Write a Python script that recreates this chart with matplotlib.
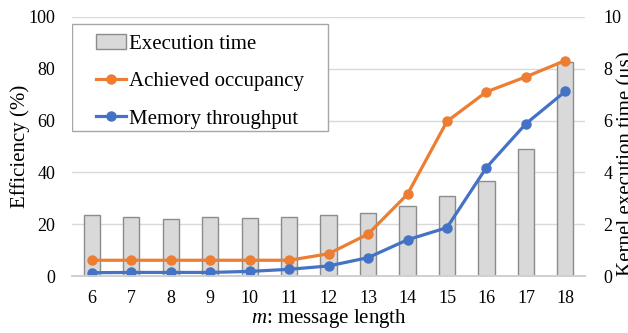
import matplotlib
matplotlib.use('Agg')
import matplotlib.pyplot as plt
from matplotlib.patches import Rectangle

plt.rcParams['font.family'] = ['Liberation Serif', 'DejaVu Serif']
plt.rcParams['mathtext.fontset'] = 'custom'
plt.rcParams['mathtext.rm'] = 'Liberation Serif'
plt.rcParams['mathtext.it'] = 'Liberation Serif:italic'

m = [6, 7, 8, 9, 10, 11, 12, 13, 14, 15, 16, 17, 18]
exec_time = [2.35, 2.27, 2.22, 2.29, 2.23, 2.27, 2.37, 2.45, 2.70, 3.09, 3.66, 4.91, 8.25]
occupancy = [6.1, 6.1, 6.1, 6.1, 6.1, 6.1, 8.6, 16.2, 31.6, 59.7, 71.1, 76.9, 83.2]
mem_thru = [1.3, 1.4, 1.4, 1.4, 1.8, 2.6, 3.9, 7.1, 14.0, 18.7, 41.9, 58.8, 71.3]

fig = plt.figure(figsize=(6.28, 3.33), dpi=100)
ax1 = fig.add_axes([0.1147, 0.171, 0.817, 0.778])
ax2 = ax1.twinx()
ax1.set_zorder(ax2.get_zorder() + 1)
ax1.patch.set_visible(False)

bars = ax2.bar(m, exec_time, width=0.41, color='#d9d9d9', edgecolor='#8c8c8c',
               linewidth=1, label='Execution time')
ax2.set_ylim(0, 10)
ax2.set_yticks([0, 2, 4, 6, 8, 10])
ax2.grid(axis='y', color='#d9d9d9', linewidth=1)
ax2.set_axisbelow(True)

l1, = ax1.plot(m, occupancy, color='#ed7d31', lw=2.3, marker='o', ms=6.5,
               label='Achieved occupancy')
l2, = ax1.plot(m, mem_thru, color='#4472c4', lw=2.3, marker='o', ms=6.5,
               label='Memory throughput')
ax1.set_ylim(0, 100)
ax1.set_yticks([0, 20, 40, 60, 80, 100])
ax1.set_xlim(5.5, 18.5)
ax1.set_xticks(m)

for ax in (ax1, ax2):
    for s in ('top', 'left', 'right'):
        ax.spines[s].set_visible(False)
    ax.spines['bottom'].set_color('#d0d0d0')
    ax.spines['bottom'].set_linewidth(1.3)
    ax.tick_params(length=0, labelsize=13)
ax1.tick_params(axis='y', pad=12)
ax1.tick_params(axis='x', pad=10)
ax2.tick_params(axis='y', pad=13)

ax1.set_ylabel('Efficiency (%)', fontsize=15)
ax1.yaxis.set_label_coords(-0.082, 0.5)
ax2.set_ylabel('Kernel execution time (μs)', fontsize=15)
ax2.yaxis.set_label_coords(1.06, 0.434)
ax1.set_xlabel('$m$: message length', fontsize=15, labelpad=0)

# legend frame (wider side padding than matplotlib's uniform borderpad)
frame = Rectangle((72 / 628, 1 - 131 / 333), 256 / 628, 107 / 333,
                  transform=fig.transFigure, facecolor='white',
                  edgecolor='#a6a6a6', linewidth=1, zorder=5)
ax1.add_artist(frame)
leg = ax1.legend([bars, l1, l2], ['Execution time', 'Achieved occupancy', 'Memory throughput'],
                 loc='upper left', bbox_to_anchor=(96 / 628, 1 - 34 / 333),
                 bbox_transform=fig.transFigure, fontsize=15, frameon=False,
                 handlelength=1.45, handletextpad=0.15, labelspacing=0.86,
                 borderpad=0, borderaxespad=0)
leg.set_zorder(6)

fig.savefig('out.png', dpi=100)
